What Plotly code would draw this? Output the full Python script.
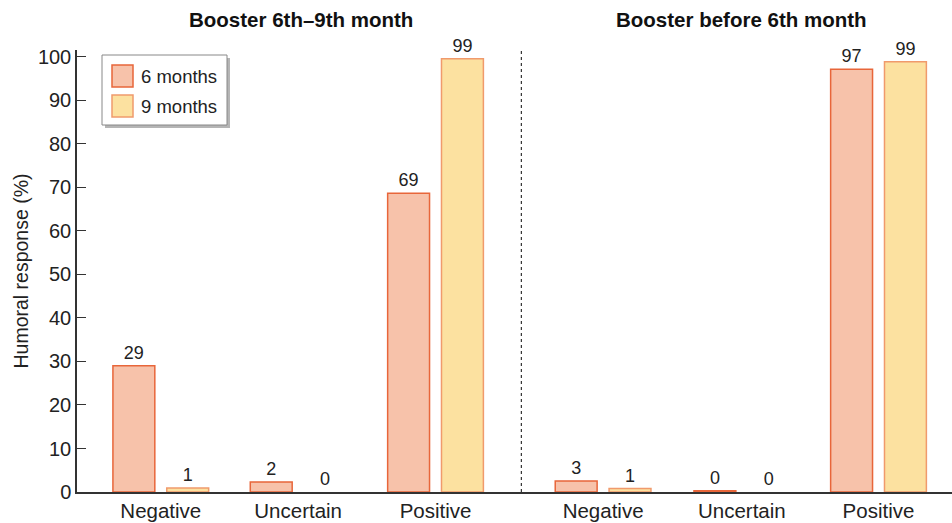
import plotly.graph_objects as go

categories = ["Negative", "Uncertain", "Positive", "Negative", "Uncertain", "Positive"]
cat_pos = [0, 1, 2, 3.22, 4.23, 5.225]
six_months = [29.0, 2.3, 68.7, 2.5, 0.3, 97.2]
nine_months = [0.9, 0.0, 99.6, 0.8, 0.0, 98.9]
six_labels = ["29", "2", "69", "3", "0", "97"]
nine_labels = ["1", "0", "99", "1", "0", "99"]
series_names = ["6 months", "9 months"]
panel_titles = ["Booster 6th–9th month", "Booster before 6th month"]
y_ticks = [0, 10, 20, 30, 40, 50, 60, 70, 80, 90, 100]

off = 0.196
w = 0.305
font = "Liberation Sans, Arial, sans-serif"
fill6, line6 = "#F7C2AA", "#E8663A"
fill9, line9 = "#FCE1A0", "#F09A6C"

# plot area in pixels
L, R, T, B = 77, 952, 50, 492
def px(x):
    return (x - L) / (R - L)
def py(y):
    return (B - y) / (B - T)

def lw(vals):
    return [1.5 if v > 0 else 0 for v in vals]

fig = go.Figure()
fig.add_trace(go.Bar(
    x=[p - off for p in cat_pos], y=six_months, width=w, name=series_names[0],
    marker=dict(color=fill6, line=dict(color=line6, width=lw(six_months))),
    text=six_labels, textposition="outside", cliponaxis=False,
    textfont=dict(size=18, color="#222", family=font), showlegend=False,
))
fig.add_trace(go.Bar(
    x=[p + off for p in cat_pos], y=nine_months, width=w, name=series_names[1],
    marker=dict(color=fill9, line=dict(color=line9, width=lw(nine_months))),
    text=nine_labels, textposition="outside", cliponaxis=False,
    textfont=dict(size=18, color="#222", family=font), showlegend=False,
))

sep_x = 2.625
fig.add_shape(type="line", x0=sep_x, x1=sep_x, y0=0, y1=101.6, xref="x", yref="y",
              line=dict(color="#333", width=1.2, dash="dot"))

# manual legend
fig.add_shape(type="rect", xref="paper", yref="paper",
              x0=px(105), x1=px(230), y0=py(128), y1=py(58),
              fillcolor="#b5b5b5", line=dict(width=0), layer="above")
fig.add_shape(type="rect", xref="paper", yref="paper",
              x0=px(102), x1=px(227), y0=py(125), y1=py(55),
              fillcolor="white", line=dict(color="#888", width=1), layer="above")
for i, (nm, fc, lc) in enumerate([(series_names[0], fill6, line6), (series_names[1], fill9, line9)]):
    yc = 76 + 30 * i
    fig.add_shape(type="rect", xref="paper", yref="paper",
                  x0=px(112), x1=px(133), y0=py(yc + 11), y1=py(yc - 11),
                  fillcolor=fc, line=dict(color=lc, width=1.5), layer="above")
    fig.add_annotation(x=px(139), y=py(yc), xref="paper", yref="paper", text=nm,
                       xanchor="left", yanchor="middle", showarrow=False,
                       font=dict(size=18.5, color="#222", family=font))

for xc, t in zip([1.02, 4.23], panel_titles):
    fig.add_annotation(x=xc, y=py(19), xref="x", yref="paper", text="<b>" + t + "</b>",
                       xanchor="center", yanchor="middle",
                       showarrow=False, font=dict(size=20.5, color="#111", family=font))

fig.update_layout(
    width=952, height=523,
    margin=dict(l=L, r=952 - R, t=T, b=523 - B),
    paper_bgcolor="white", plot_bgcolor="white",
    barmode="overlay",
    font=dict(family=font, size=20, color="#222"),
    showlegend=False,
    xaxis=dict(range=[-0.61, 5.76], tickvals=cat_pos, ticktext=categories,
               showline=True, linecolor="#333", linewidth=1.5, ticks="",
               showgrid=False, zeroline=False, automargin=False,
               tickfont=dict(size=20.5, color="#222")),
    yaxis=dict(range=[0, 101.6], tickvals=y_ticks, showline=True, linecolor="#333",
               linewidth=1.5, ticks="inside", ticklen=9, tickcolor="#333",
               showgrid=False, zeroline=False, automargin=False,
               tickfont=dict(size=20, color="#222"),
               title=dict(text="Humoral response (%)", font=dict(size=19.5, color="#222"), standoff=4)),
)

fig.write_html("out.html", config={"displayModeBar": False},
               post_script="document.body.style.margin='0';document.body.style.overflow='hidden';")
